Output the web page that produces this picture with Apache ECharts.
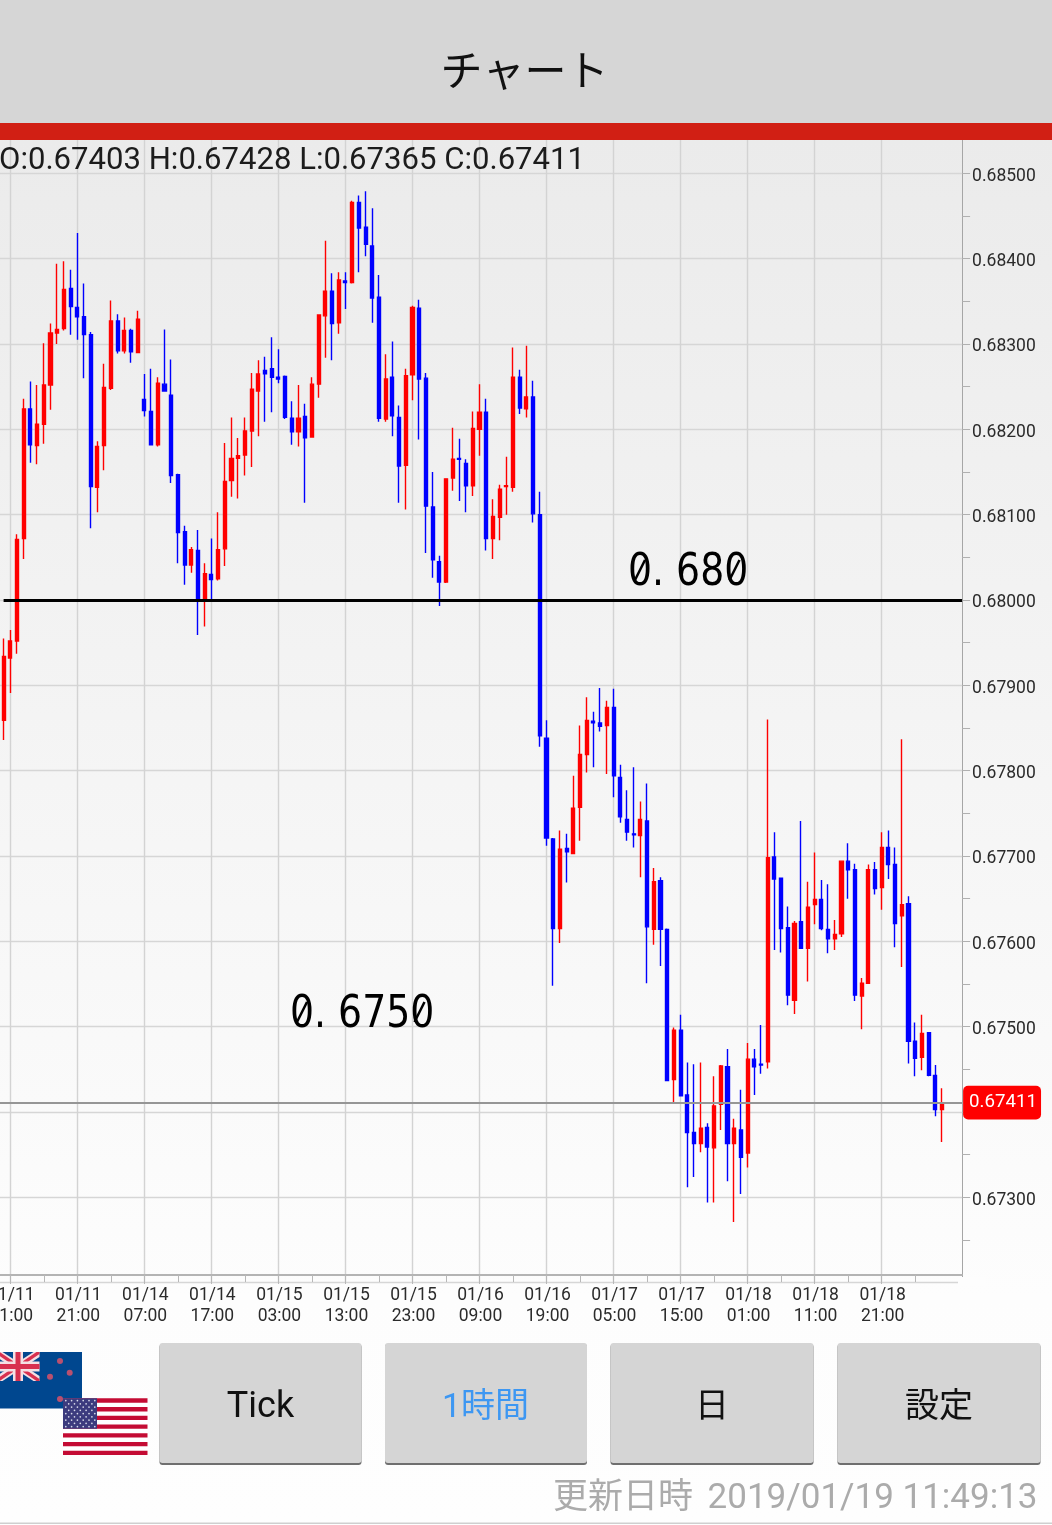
<!DOCTYPE html>
<html><head><meta charset="utf-8">
<style>html,body{margin:0;padding:0;background:#fff;overflow:hidden}#c{width:1052px;height:1525px}</style>
<script src="https://cdn.jsdelivr.net/npm/echarts@6/dist/echarts.min.js"></script>
</head><body><div id="c"></div>
<script>
const tickLabels = ['01/11\n11:00','01/11\n21:00','01/14\n07:00','01/14\n17:00','01/15\n03:00','01/15\n13:00','01/15\n23:00','01/16\n09:00','01/16\n19:00','01/17\n05:00','01/17\n15:00','01/18\n01:00','01/18\n11:00','01/18\n21:00'];
const opens = [0.67859,0.67932,0.67952,0.68072,0.68224,0.68181,0.68206,0.68252,0.68313,0.68318,0.68365,0.68343,0.68332,0.68311,0.68132,0.68181,0.68248,0.68327,0.68292,0.68316,0.68290,
0.68235,0.68221,0.68182,0.68253,0.68240,0.68147,0.68080,0.68041,0.68058,0.68001,0.68030,0.68025,0.68060,0.68140,0.68166,0.68170,0.68198,0.68245,0.68269,0.68271,
0.68261,0.68262,0.68213,0.68197,0.68215,0.68191,0.68253,0.68333,0.68362,0.68325,0.68374,0.68372,0.68466,0.68437,0.68415,0.68355,0.68212,0.68261,0.68214,0.68158,
0.68264,0.68342,0.68260,0.68109,0.68045,0.68021,0.68143,0.68166,0.68160,0.68134,0.68200,0.68220,0.68072,0.68097,0.68133,0.68132,0.68261,0.68224,0.68238,0.68100,
0.67838,0.67720,0.67615,0.67709,0.67703,0.67757,0.67819,0.67858,0.67856,0.67853,0.67874,0.67792,0.67743,0.67726,0.67724,0.67741,0.67614,0.67671,0.67614,0.67438,
0.67496,0.67420,0.67376,0.67363,0.67382,0.67358,0.67409,0.67453,0.67363,0.67379,0.67352,0.67462,0.67456,0.67459,0.67699,0.67674,0.67616,0.67531,0.67623,0.67592,
0.67643,0.67649,0.67614,0.67603,0.67609,0.67694,0.67684,0.67536,0.67551,0.67684,0.67663,0.67710,0.67690,0.67630,0.67644,0.67483,0.67464,0.67493,0.67443,0.67403];
const closes = [0.67934,0.67952,0.68071,0.68224,0.68182,0.68206,0.68252,0.68313,0.68317,0.68364,0.68344,0.68332,0.68311,0.68133,0.68180,0.68249,0.68327,0.68292,0.68316,0.68291,0.68329,
0.68222,0.68182,0.68254,0.68245,0.68146,0.68079,0.68041,0.68059,0.67999,0.68031,0.68024,0.68059,0.68139,0.68166,0.68169,0.68198,0.68247,0.68265,0.68265,0.68261,
0.68259,0.68214,0.68197,0.68213,0.68190,0.68253,0.68334,0.68362,0.68324,0.68375,0.68372,0.68466,0.68436,0.68417,0.68354,0.68213,0.68259,0.68216,0.68157,0.68263,
0.68343,0.68259,0.68110,0.68047,0.68021,0.68142,0.68165,0.68165,0.68134,0.68201,0.68220,0.68072,0.68098,0.68130,0.68134,0.68261,0.68225,0.68238,0.68101,0.67841,
0.67721,0.67615,0.67708,0.67705,0.67756,0.67819,0.67859,0.67856,0.67852,0.67874,0.67794,0.67746,0.67728,0.67725,0.67743,0.67617,0.67670,0.67614,0.67437,0.67496,
0.67419,0.67376,0.67363,0.67381,0.67359,0.67407,0.67454,0.67363,0.67381,0.67347,0.67462,0.67453,0.67455,0.67698,0.67673,0.67615,0.67537,0.67621,0.67592,0.67640,
0.67649,0.67615,0.67603,0.67608,0.67694,0.67684,0.67537,0.67551,0.67684,0.67662,0.67710,0.67690,0.67621,0.67643,0.67483,0.67463,0.67492,0.67443,0.67403,0.67411];
const lows = [0.67836,0.67891,0.67937,0.68048,0.68161,0.68159,0.68183,0.68223,0.68300,0.68316,0.68311,0.68305,0.68260,0.68084,0.68103,0.68152,0.68246,0.68289,0.68289,0.68278,0.68290,
0.68215,0.68182,0.68180,0.68245,0.68137,0.68043,0.68018,0.68032,0.67959,0.67969,0.67999,0.68023,0.68040,0.68121,0.68119,0.68146,0.68156,0.68192,0.68209,0.68220,
0.68254,0.68212,0.68182,0.68180,0.68114,0.68191,0.68237,0.68284,0.68281,0.68312,0.68341,0.68371,0.68384,0.68403,0.68325,0.68209,0.68209,0.68192,0.68114,0.68106,
0.68234,0.68188,0.68055,0.68026,0.67993,0.68020,0.68128,0.68116,0.68103,0.68122,0.68169,0.68058,0.68048,0.68070,0.68100,0.68127,0.68218,0.68214,0.68091,0.67828,
0.67712,0.67548,0.67598,0.67669,0.67703,0.67718,0.67798,0.67804,0.67846,0.67796,0.67769,0.67739,0.67718,0.67710,0.67675,0.67551,0.67596,0.67571,0.67437,0.67411,
0.67419,0.67312,0.67324,0.67353,0.67294,0.67294,0.67379,0.67319,0.67271,0.67304,0.67335,0.67420,0.67445,0.67451,0.67590,0.67587,0.67525,0.67515,0.67592,0.67553,
0.67620,0.67613,0.67586,0.67590,0.67605,0.67650,0.67530,0.67497,0.67551,0.67655,0.67637,0.67673,0.67593,0.67570,0.67457,0.67442,0.67449,0.67442,0.67395,0.67365];
const highs = [0.67955,0.67965,0.68077,0.68236,0.68256,0.68252,0.68301,0.68324,0.68394,0.68397,0.68387,0.68430,0.68371,0.68314,0.68186,0.68277,0.68351,0.68335,0.68331,0.68318,0.68339,
0.68265,0.68271,0.68261,0.68317,0.68282,0.68148,0.68087,0.68062,0.68082,0.68043,0.68072,0.68103,0.68184,0.68214,0.68190,0.68214,0.68266,0.68281,0.68285,0.68308,
0.68294,0.68263,0.68233,0.68252,0.68230,0.68261,0.68335,0.68421,0.68383,0.68384,0.68384,0.68468,0.68474,0.68479,0.68459,0.68381,0.68288,0.68303,0.68228,0.68271,
0.68345,0.68352,0.68266,0.68150,0.68052,0.68142,0.68202,0.68189,0.68165,0.68221,0.68253,0.68236,0.68118,0.68135,0.68168,0.68296,0.68270,0.68298,0.68257,0.68127,
0.67859,0.67721,0.67730,0.67726,0.67794,0.67853,0.67886,0.67869,0.67897,0.67882,0.67896,0.67807,0.67777,0.67804,0.67764,0.67785,0.67686,0.67675,0.67615,0.67499,
0.67514,0.67458,0.67456,0.67458,0.67387,0.67442,0.67455,0.67474,0.67392,0.67426,0.67481,0.67474,0.67502,0.67860,0.67728,0.67674,0.67641,0.67624,0.67741,0.67670,
0.67704,0.67672,0.67667,0.67625,0.67694,0.67715,0.67691,0.67557,0.67690,0.67693,0.67728,0.67730,0.67710,0.67837,0.67653,0.67505,0.67514,0.67493,0.67455,0.67428];
const lastPrice = 0.67411;
const levelLine = 0.68;
const headerText = 'O:0.67403 H:0.67428 L:0.67365 C:0.67411';

const PAD_L = 1, PAD_R = 3, LEFT_K = -2;
const n = opens.length;
const candleData = [];
for (let i = 0; i < PAD_L; i++) candleData.push('-');
for (let i = 0; i < n; i++) candleData.push([opens[i], closes[i], lows[i], highs[i]]);
for (let i = 0; i < PAD_R; i++) candleData.push('-');
const K0 = -LEFT_K;
const categories = candleData.map((_, i) => {
  const k = i - K0;
  if (k >= 0 && k % 10 === 0 && tickLabels[k / 10]) return tickLabels[k / 10];
  return 'k' + k;
});
const isMajor = i => { const k = i - K0; return k >= 0 && k % 10 === 0 && !!tickLabels[k / 10]; };
const isMinor = i => { const k = i - K0; return k >= 0 && k % 5 === 0 && k <= 135; };

const sans = 'Roboto,"Noto Sans CJK JP",sans-serif';
const txt = (x, y, text, size, color, align, extra) => Object.assign({
  type: 'text', x, y, z: 110, silent: true,
  style: { text, fontSize: size, fontFamily: sans, fill: color, align: align || 'center', verticalAlign: 'middle' }
}, extra || {});
const rect = (x, y, w, h, fill, r, z) => ({ type: 'rect', z: z || 100, silent: true, shape: { x, y, width: w, height: h, r: r || 0 }, style: { fill } });
const poly = (points, fill) => ({ type: 'polygon', z: 101, silent: true, shape: { points }, style: { fill } });
const button = (x, w) => [rect(x, 1344, w, 121, '#6f6f6f', 3, 100), rect(x, 1343, w, 120, '#d5d5d5', 3, 101)];

const g = [];
g.push(rect(0, 0, 1052, 123, '#d6d6d6'), rect(0, 123, 1052, 17, '#d11f14'));
g.push(rect(958, 1277, 28, 9, '#fdfdfd'));
g.push(rect(0, 1522.5, 1052, 1.5, '#cfcfcf'));
g.push(txt(524.5, 75, 'チャート', 42, '#111'));
g.push(txt(-1, 161.5, headerText, 31.1, '#1c1c1c', 'left'));
button(159.5, 202).forEach(e => g.push(e));
button(385, 202).forEach(e => g.push(e));
button(610.5, 203).forEach(e => g.push(e));
button(837.5, 203).forEach(e => g.push(e));
g.push(txt(260.5, 1408, 'Tick', 36, '#111'));
g.push(txt(485.5, 1408, '1時間', 34, '#3d97f2'));
g.push(txt(712, 1408, '日', 34, '#111'));
g.push(txt(939, 1408, '設定', 34, '#111'));
g.push(txt(693, 1499, '更新日時', 35, '#ababab', 'right'));
g.push(txt(1037.5, 1499, '2019/01/19 11:49:13', 35, '#ababab', 'right'));
const hand = (x, y, text) => ({ type: 'text', x, y, z: 60, scaleX: 0.84, silent: true,
  style: { text, fontSize: 45, fontFamily: '"DejaVu Sans"', fill: '#000', align: 'left', verticalAlign: 'middle' } });
g.push(hand(628, 573, '0. 680'), hand(290, 1015, '0. 6750'));
[[640, 570], [734.5, 570], [302, 1012], [419.5, 1012]].forEach(p => {
  g.push({ type: 'line', z: 61, silent: true, shape: { x1: p[0] - 5, y1: p[1] + 10, x2: p[0] + 5, y2: p[1] - 10 }, style: { stroke: '#000', lineWidth: 2.5 } });
});
// New Zealand flag
g.push(rect(0, 1352, 82, 56.5, '#00478f'));
const L = -3.5, R = 39.5, T = 1352, B = 1381, CX = 18, CY = 1366.5;
g.push(poly([[L,T],[L+6,T],[R,B-5],[R,B],[R-6,B],[L,T+5]], '#f4e0e4'));
g.push(poly([[R,T],[R-6,T],[L,B-5],[L,B],[L+6,B],[R,T+5]], '#f4e0e4'));
g.push(poly([[L,T],[L+3,T],[R,B-2],[R,B],[R-3,B],[L,T+2]], '#d8304f'));
g.push(poly([[R,T],[R-3,T],[L,B-2],[L,B],[L+3,B],[R,T+2]], '#d8304f'));
g.push(rect(CX-5, T, 10, B-T, '#f4e0e4', 0, 102), rect(L, CY-5, R-L, 10, '#f4e0e4', 0, 102));
g.push(rect(CX-2.5, T, 5, B-T, '#d8304f', 0, 102), rect(L, CY-2.5, R-L, 5, '#d8304f', 0, 102));
[[60,1361],[69.7,1372.7],[50,1376.7],[60,1399]].forEach(p => {
  g.push({ type: 'circle', z: 102, silent: true, shape: { cx: p[0], cy: p[1], r: 3 }, style: { fill: '#b9506f' } });
});
// United States flag
g.push(rect(63, 1398.3, 84.5, 56.7, '#ffffff', 0, 103));
for (let s = 0; s < 13; s += 2) g.push(rect(63, 1398.3 + s * 56.7 / 13, 84.5, 56.7 / 13, '#c40c34', 0, 104));
g.push(rect(63, 1398.3, 34, 30.5, '#3c3b7e', 0, 105));
for (let r = 0; r < 9; r++) for (let c = 0; c < (r % 2 ? 5 : 6); c++) {
  g.push({ type: 'circle', z: 106, silent: true, shape: { cx: 65.8 + c * 5.8 + (r % 2 ? 2.9 : 0), cy: 1400.6 + r * 3.25, r: 0.85 }, style: { fill: '#d9dbea' } });
}

const yTop = 88.03, yBot = 1282.7, xLeft = -3.1, xRight = 962.1;
const chart = echarts.init(document.getElementById('c'), null, { width: 1052, height: 1525 });
chart.setOption({
  animation: false,
  backgroundColor: new echarts.graphic.LinearGradient(0, 0, 0, 1, [
    { offset: 0, color: '#ebebeb' }, { offset: 0.09, color: '#ebebeb' },
    { offset: 0.85, color: '#fdfdfd' }, { offset: 1, color: '#fefefe' }]),
  grid: { left: xLeft, right: 1052 - xRight, top: yTop, bottom: 1525 - yBot, containLabel: false, outerBoundsMode: 'none' },
  xAxis: [{
    type: 'category', data: categories, boundaryGap: false, position: 'bottom', offset: -7.7,
    axisLine: { show: true, onZero: false, lineStyle: { color: '#b4b4b4', width: 2 } },
    axisTick: { show: true, length: 9, interval: i => isMajor(i), lineStyle: { color: '#b8b8b8', width: 1 } },
    splitLine: { show: true, interval: i => isMajor(i), lineStyle: { color: '#d3d3d3', width: 1.4 } },
    axisLabel: { show: true, interval: i => isMajor(i), hideOverlap: false, margin: 10, color: '#2b2b2b', fontFamily: sans, align: 'center',
      formatter: v => v.split('\n').map(t => '{a|' + t + '}').join('\n'),
      rich: { a: { fontSize: 17.5, lineHeight: 21, color: '#2b2b2b', fontFamily: sans, padding: [0, 0, 0, 2] } } }
  }, {
    type: 'category', data: categories, boundaryGap: false, position: 'bottom', offset: -7.7,
    axisLine: { show: false, onZero: false },
    axisTick: { show: true, length: 7, interval: i => isMinor(i), lineStyle: { color: '#b8b8b8', width: 1 } },
    splitLine: { show: false }, axisLabel: { show: false }
  }],
  yAxis: {
    type: 'value', position: 'right', min: 0.672, max: 0.686, interval: 0.001, scale: true,
    axisLine: { show: true, lineStyle: { color: '#a6a6a6', width: 1 } },
    axisTick: { show: true, length: 8, lineStyle: { color: '#b0b0b0' } },
    minorTick: { show: true, splitNumber: 2, length: 8, lineStyle: { color: '#b0b0b0' } },
    minorSplitLine: { show: false },
    splitLine: { show: true, lineStyle: { color: '#d6d6d6', width: 1.4 } },
    axisLabel: { show: true, margin: 10, color: '#2b2b2b', fontFamily: sans,
      formatter: v => (v < 0.6725 || v > 0.6855) ? '' : '{a|' + v.toFixed(5) + '}',
      rich: { a: { fontSize: 17.5, color: '#2b2b2b', fontFamily: sans, padding: [6, 0, 0, 0] } } }
  },
  graphic: { elements: g },
  series: [{
    type: 'candlestick', data: candleData, xAxisIndex: 0, yAxisIndex: 0, barWidth: 3.6, clip: true, silent: true,
    itemStyle: { color: '#ff0000', color0: '#0000ff', borderColor: '#ff0000', borderColor0: '#0000ff', borderWidth: 1.4 },
    markLine: {
      silent: true, symbol: 'none', animation: false,
      data: [
        [{ coord: [0, lastPrice], lineStyle: { color: '#969696', width: 2, type: 'solid' },
           label: { show: true, position: 'end', formatter: lastPrice.toFixed(5), distance: 1, color: '#fff', fontSize: 18.7, fontFamily: sans,
                    backgroundColor: '#ff0000', borderRadius: 5, padding: [10, 4, 5, 6] } },
         { coord: [categories.length - 1, lastPrice] }],
        [{ coord: [1, levelLine], lineStyle: { color: '#000', width: 3, type: 'solid' }, label: { show: false } },
         { coord: [categories.length - 1, levelLine] }]
      ]
    }
  }]
});
</script></body></html>
